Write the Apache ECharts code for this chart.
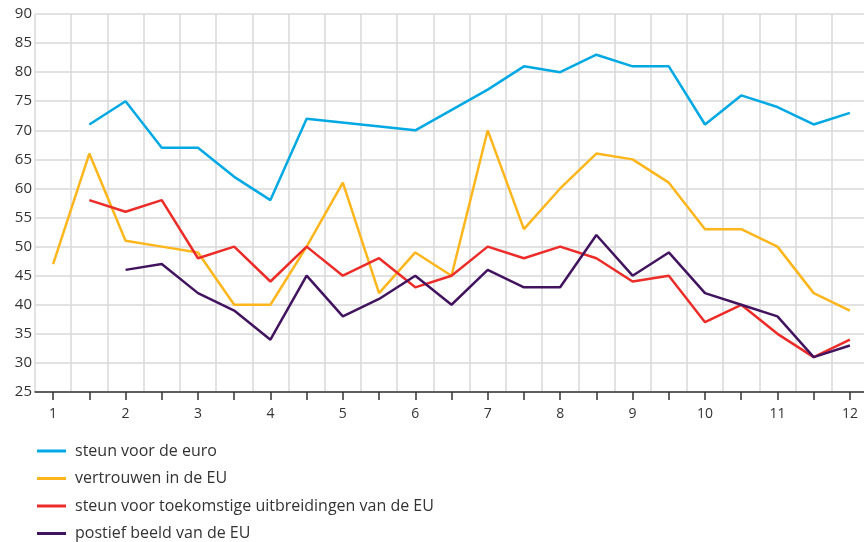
<!DOCTYPE html>
<html>
<head>
<meta charset="utf-8">
<script src="https://cdn.jsdelivr.net/npm/echarts@6/dist/echarts.min.js"></script>
<style>
  html, body { margin: 0; padding: 0; background: #fff; overflow: hidden; }
  #chart { width: 868px; height: 542px; }
</style>
</head>
<body>
<div id="chart"></div>
<script>
// Half-year steps: 1, 1.5, 2, ... 12
var categories = ['1', '1.5', '2', '2.5', '3', '3.5', '4', '4.5', '5', '5.5', '6', '6.5',
    '7', '7.5', '8', '8.5', '9', '9.5', '10', '10.5', '11', '11.5', '12'];

var euroSupport = [null, 71, 75, 67, 67, 62, 58, 72, null, null, 70, null,
    77, 81, 80, 83, 81, 81, 71, 76, 74, 71, 73];
var trustEU = [47, 66, 51, 50, 49, 40, 40, 50, 61, 42, 49, 45,
    70, 53, 60, 66, 65, 61, 53, 53, 50, 42, 39];
var enlargement = [null, 58, 56, 58, 48, 50, 44, 50, 45, 48, 43, 45,
    50, 48, 50, 48, 44, 45, 37, 40, 35, 31, 34];
var positiveImage = [null, null, 46, 47, 42, 39, 34, 45, 38, 41, 45, 40,
    46, 43, 43, 52, 45, 49, 42, 40, 38, 31, 33];

var seriesNames = ['steun voor de euro', 'vertrouwen in de EU',
    'steun voor toekomstige uitbreidingen van de EU', 'postief beeld van de EU'];
var seriesColors = ['#00a8e4', '#ffb61c', '#ec2c28', '#42145f'];
var seriesData = [euroSupport, trustEU, enlargement, positiveImage];

// the plot runs a little past the right edge of the picture
var chart = echarts.init(document.getElementById('chart'));

function makeSeries() {
    var out = [];
    for (var i = 0; i < seriesData.length; i++) {
        out.push({
            name: seriesNames[i],
            type: 'line',
            data: seriesData[i],
            connectNulls: true,
            showSymbol: false,
            symbol: 'none',
            lineStyle: { color: seriesColors[i], width: 2.5 },
            itemStyle: { color: seriesColors[i] }
        });
    }
    return out;
}

var option = {
    animation: false,
    textStyle: { fontFamily: 'Open Sans' },
    grid: { left: 35, right: 0, top: 14, bottom: 150, containLabel: false },
    legend: {
        orient: 'vertical',
        left: 32,
        top: 436,
        height: 120,
        icon: 'rect',
        itemWidth: 29,
        itemHeight: 3,
        itemGap: 7.5,
        textStyle: { fontSize: 16, color: '#333', lineHeight: 20, padding: [0, 0, 0, 4] },
        data: seriesNames
    },
    xAxis: {
        type: 'category',
        data: categories,
        boundaryGap: true,
        axisLine: { show: true, lineStyle: { color: '#333', width: 1.5 } },
        axisTick: { show: true, interval: 0, alignWithLabel: true, length: 8, lineStyle: { color: '#333', width: 1.5 } },
        axisLabel: { interval: 1, margin: 15, fontSize: 14, color: '#333' },
        splitLine: { show: true, interval: 0, lineStyle: { color: '#d9d9d9', width: 1.5 } }
    },
    yAxis: {
        type: 'value',
        min: 25,
        max: 90,
        interval: 5,
        axisLine: { show: false },
        axisTick: { show: false },
        axisLabel: { margin: 3, fontSize: 15, color: '#333' },
        splitLine: { lineStyle: { color: '#d9d9d9', width: 1.5 } }
    },
    series: makeSeries()
};

chart.setOption(option);
</script>
</body>
</html>
